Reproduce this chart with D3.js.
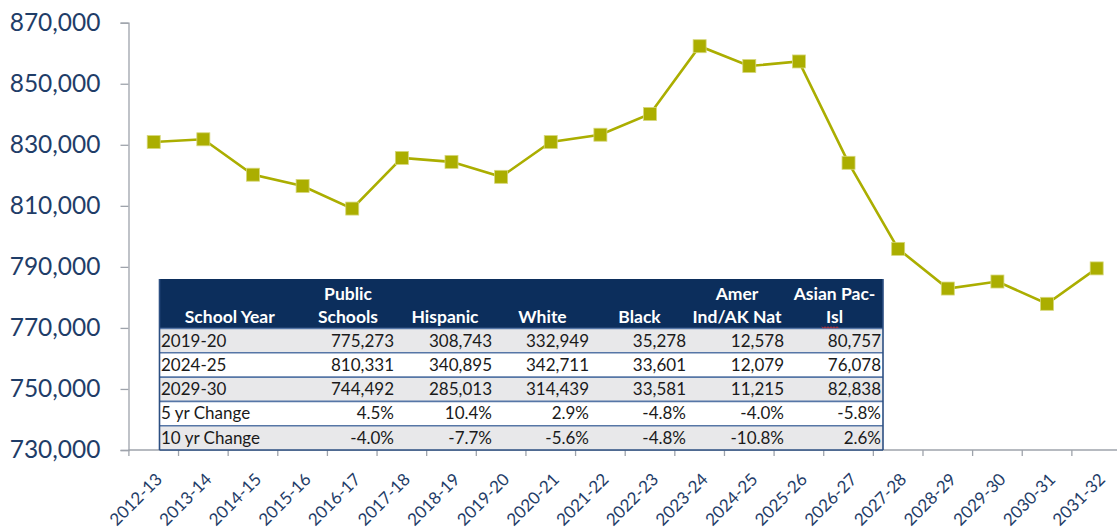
<!DOCTYPE html>
<html>
<head>
<meta charset="utf-8">
<script src="https://cdn.jsdelivr.net/npm/d3@7"></script>
<style>
  html, body { margin: 0; padding: 0; background: #fff; }
  svg { display: block; font-family: Lato, "Open Sans", sans-serif; }
  .y-axis text { fill: #1f3d68; font-size: 24.5px; font-family: Lato, "Open Sans", sans-serif; }
  .x-label { fill: #1f3d68; font-size: 17px; }
  .axis-line { stroke: #9ea3ab; stroke-width: 1.3; fill: none; }
</style>
</head>
<body>
<svg id="chart" width="1117" height="529"></svg>
<script>
// School years on the x axis
const schoolYears = [
  '2012-13', '2013-14', '2014-15', '2015-16', '2016-17', '2017-18', '2018-19',
  '2019-20', '2020-21', '2021-22', '2022-23', '2023-24', '2024-25', '2025-26',
  '2026-27', '2027-28', '2028-29', '2029-30', '2030-31', '2031-32'
];

// Enrollment
const enrollment = [
  830900, 831800, 820200, 816500, 809100, 825700, 824400,
  819500, 830900, 833300, 840100, 862300, 855800, 857300,
  824100, 795900, 782900, 785200, 777900, 789500
];

const yTicks = [730000, 750000, 770000, 790000, 810000, 830000, 850000, 870000];

// Table data
const tableHeaders = [
  ['School Year'], ['Public', 'Schools'], ['Hispanic'], ['White'],
  ['Black'], ['Amer', 'Ind/AK Nat'], ['Asian Pac-', 'Isl']
];
const rowLabels = ['2019-20', '2024-25', '2029-30', '5 yr Change', '10 yr Change'];
const publicSchools = ['775,273', '810,331', '744,492', '4.5%', '-4.0%'];
const hispanic = ['308,743', '340,895', '285,013', '10.4%', '-7.7%'];
const white = ['332,949', '342,711', '314,439', '2.9%', '-5.6%'];
const black = ['35,278', '33,601', '33,581', '-4.8%', '-4.8%'];
const amerInd = ['12,578', '12,079', '11,215', '-4.0%', '-10.8%'];
const asianPac = ['80,757', '76,078', '82,838', '-5.8%', '2.6%'];

const svg = d3.select('#chart');
const width = 1117;

const x = d3.scaleBand()
  .domain(schoolYears)
  .range([128.9, 1121.5]);

const y = d3.scaleLinear()
  .domain([730000, 870000])
  .range([450, 22.7]);

// y axis
const yAxis = svg.append('g')
  .attr('class', 'y-axis')
  .attr('transform', 'translate(128.5,0)')
  .call(d3.axisLeft(y)
    .tickValues(yTicks)
    .tickSize(8)
    .tickPadding(20)
    .tickFormat(d3.format(',')));
yAxis.attr('font-family', null).attr('font-size', null);
yAxis.select('.domain').attr('class', 'axis-line');
yAxis.selectAll('.tick line').attr('class', 'axis-line');

// x axis, ticks between categories like Excel does
const xAxis = svg.append('g');
xAxis.append('line')
  .attr('class', 'axis-line')
  .attr('x1', 128.5).attr('x2', width)
  .attr('y1', y(730000)).attr('y2', y(730000));

xAxis.selectAll('.xtick')
  .data(schoolYears)
  .enter()
    .append('line')
    .attr('class', 'axis-line')
    .attr('x1', d => x(d)).attr('x2', d => x(d))
    .attr('y1', y(730000)).attr('y2', y(730000) + 6);

xAxis.selectAll('.x-label')
  .data(schoolYears)
  .enter()
    .append('text')
    .attr('class', 'x-label')
    .attr('text-anchor', 'end')
    .attr('transform', d =>
      'translate(' + (x(d) + x.bandwidth() / 2 + 1) + ',' + (y(730000) + 22) + ') rotate(-45)')
    .attr('dy', '0.7em')
    .text(d => d);

// line + square markers
const points = schoolYears.map((d, i) => ({ year: d, value: enrollment[i] }));
const line = d3.line()
  .x(d => x(d.year) + x.bandwidth() / 2)
  .y(d => y(d.value));

svg.append('path')
  .datum(points)
  .attr('d', line)
  .attr('fill', 'none')
  .attr('stroke', '#abae00')
  .attr('stroke-width', 2.6);

const markerSize = 13;
svg.selectAll('.marker')
  .data(points)
  .enter()
    .append('rect')
    .attr('class', 'marker')
    .attr('x', d => x(d.year) + x.bandwidth() / 2 - markerSize / 2)
    .attr('y', d => y(d.value) - markerSize / 2)
    .attr('width', markerSize)
    .attr('height', markerSize)
    .attr('fill', '#abae00')
    .attr('stroke', '#d6d77a')
    .attr('stroke-width', 0.8);

// table overlay
const columns = [rowLabels, publicSchools, hispanic, white, black, amerInd, asianPac];
const colEdges = [159.5, 300, 396, 494, 591, 688, 786, 883];
const headerTop = 279;
const headerBottom = 328.5;
const rowHeight = 24.3;

const table = svg.append('g').attr('class', 'table');

table.append('rect')
  .attr('x', colEdges[0]).attr('y', headerTop)
  .attr('width', colEdges[7] - colEdges[0]).attr('height', headerBottom - headerTop)
  .attr('fill', '#0c2e5c');

table.selectAll('.row-bg')
  .data(rowLabels)
  .enter()
    .append('rect')
    .attr('x', colEdges[0])
    .attr('y', (d, i) => headerBottom + i * rowHeight)
    .attr('width', colEdges[7] - colEdges[0])
    .attr('height', rowHeight)
    .attr('fill', (d, i) => i % 2 === 0 ? '#e8e8ea' : '#ffffff');

// row separators
table.selectAll('.row-sep')
  .data(d3.range(rowLabels.length + 1))
  .enter()
    .append('line')
    .attr('x1', colEdges[0]).attr('x2', colEdges[7])
    .attr('y1', i => headerBottom + i * rowHeight)
    .attr('y2', i => headerBottom + i * rowHeight)
    .attr('stroke', i => i === rowLabels.length ? '#2c4f82' : '#5676a6')
    .attr('stroke-width', 1.6);

// side borders
[colEdges[0], colEdges[7]].forEach(xx => {
  table.append('line')
    .attr('x1', xx).attr('x2', xx)
    .attr('y1', headerTop).attr('y2', headerBottom + rowLabels.length * rowHeight)
    .attr('stroke', '#2c4f82')
    .attr('stroke-width', 1.6);
});

// header text
tableHeaders.forEach((lines, c) => {
  const cx = (colEdges[c] + colEdges[c + 1]) / 2;
  lines.forEach((t, j) => {
    const baseline = lines.length === 2 ? (j === 0 ? 300 : 323) : 323;
    table.append('text')
      .attr('x', cx)
      .attr('y', baseline)
      .attr('text-anchor', 'middle')
      .attr('fill', '#ffffff')
      .attr('font-weight', 'bold')
      .attr('font-size', '17.5px')
      .text(t);
  });
});

// spell-check squiggle under "Isl"
const squiggle = d3.range(0, 17, 1.5).map((dx, i) => [822 + dx, 327 + (i % 2 ? 1.3 : -0.3)]);
table.append('path')
  .attr('d', d3.line()(squiggle))
  .attr('fill', 'none')
  .attr('stroke', '#e03030')
  .attr('stroke-width', 0.9);

// body text
columns.forEach((col, c) => {
  table.selectAll('.cell-' + c)
    .data(col)
    .enter()
      .append('text')
      .attr('x', c === 0 ? colEdges[0] + 1.5 : colEdges[c + 1] - 2)
      .attr('y', (d, i) => headerBottom + i * rowHeight + 18)
      .attr('text-anchor', c === 0 ? 'start' : 'end')
      .attr('fill', '#1a1a1a')
      .attr('font-size', '17px')
      .text(d => d);
});
</script>
</body>
</html>
